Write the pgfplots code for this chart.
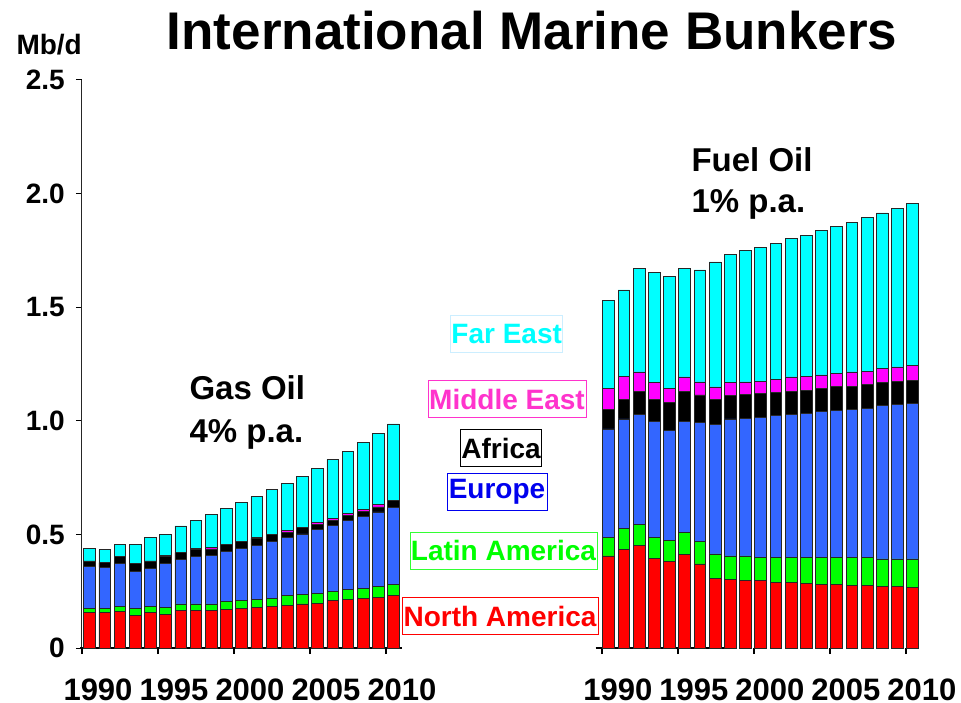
\documentclass[border=0pt]{standalone}
\usepackage{fontspec}
\setmainfont{Liberation Sans}
\usepackage{pgfplots}
\usepackage{pgfplotstable}
\pgfplotsset{compat=1.18}

\definecolor{naRed}{HTML}{FF0000}
\definecolor{laGreen}{HTML}{00FF00}
\definecolor{euBlue}{HTML}{3366FF}
\definecolor{meMag}{HTML}{FF00FF}
\definecolor{feCyan}{HTML}{00FFFF}
\definecolor{meText}{HTML}{FF33CC}
\definecolor{euText}{HTML}{0000EE}
\definecolor{laBox}{HTML}{33FF33}
\definecolor{feBox}{HTML}{CCEEFF}

% Bunker demand by region, Mb/d. Gas oil 1990-2010 at x = 0.5 ... 20.5,
% fuel oil 1990-2010 at x = 34.65 ... 54.65
\pgfplotstableread{
x     NA    LA    EU    AF    ME    FE
0.5   0.155 0.021 0.183 0.024 0.000 0.054
1.5   0.155 0.021 0.180 0.020 0.000 0.056
2.5   0.159 0.023 0.191 0.028 0.000 0.054
3.5   0.143 0.031 0.164 0.034 0.000 0.083
4.5   0.155 0.029 0.166 0.033 0.000 0.103
5.5   0.149 0.029 0.195 0.028 0.007 0.092
6.5   0.165 0.029 0.194 0.032 0.000 0.117
7.5   0.165 0.029 0.210 0.028 0.005 0.126
8.5   0.165 0.029 0.214 0.028 0.006 0.146
9.5   0.169 0.035 0.219 0.032 0.000 0.159
10.5  0.174 0.035 0.230 0.029 0.000 0.171
11.5  0.178 0.035 0.239 0.031 0.004 0.179
12.5  0.182 0.038 0.248 0.032 0.000 0.196
13.5  0.188 0.042 0.257 0.022 0.010 0.206
14.5  0.194 0.041 0.267 0.030 0.000 0.225
15.5  0.198 0.044 0.280 0.022 0.009 0.237
16.5  0.210 0.039 0.292 0.022 0.007 0.260
17.5  0.213 0.044 0.303 0.025 0.008 0.272
18.5  0.219 0.042 0.318 0.023 0.009 0.293
19.5  0.222 0.048 0.329 0.022 0.010 0.315
20.5  0.232 0.047 0.339 0.032 0.000 0.336
34.65 0.405 0.082 0.477 0.085 0.093 0.386
35.65 0.435 0.091 0.482 0.087 0.102 0.379
36.65 0.453 0.092 0.483 0.101 0.086 0.455
37.65 0.394 0.093 0.511 0.097 0.072 0.485
38.65 0.381 0.091 0.487 0.121 0.062 0.493
39.65 0.410 0.097 0.491 0.131 0.064 0.477
40.65 0.370 0.098 0.525 0.121 0.057 0.493
41.65 0.308 0.106 0.569 0.112 0.054 0.550
42.65 0.302 0.103 0.603 0.102 0.057 0.564
43.65 0.296 0.109 0.607 0.103 0.056 0.577
44.65 0.296 0.104 0.616 0.104 0.055 0.588
45.65 0.290 0.110 0.622 0.102 0.059 0.599
46.65 0.290 0.110 0.627 0.102 0.064 0.611
47.65 0.286 0.114 0.634 0.100 0.063 0.620
48.65 0.281 0.119 0.643 0.100 0.059 0.634
49.65 0.281 0.119 0.647 0.103 0.060 0.646
50.65 0.276 0.124 0.651 0.102 0.062 0.660
51.65 0.276 0.124 0.656 0.103 0.060 0.677
52.65 0.271 0.121 0.674 0.102 0.063 0.684
53.65 0.271 0.121 0.680 0.100 0.065 0.698
54.65 0.267 0.125 0.686 0.099 0.068 0.713
}\bunkers

\begin{document}
\begin{tikzpicture}[font=\bfseries]
\path[use as bounding box] (-82pt,-54pt) rectangle (879pt,648pt);
\begin{axis}[
  at={(0pt,0pt)}, anchor=south west,
  scale only axis, width=839pt, height=568pt,
  xmin=0, xmax=55.2, ymin=0, ymax=2.5,
  clip=false,
  ybar stacked, bar width=0.77,
  axis y line*=left, axis x line*=bottom,
  y axis line style={-, black!85, line width=1pt},
  x axis line style={draw=none},
  tick align=outside, major tick length=6pt,
  ytick={0,0.5,1,1.5,2,2.5},
  yticklabels={0,0.5,1.0,1.5,2.0,2.5},
  xtick={0,5,10,15,20,34.2,39.2,44.2,49.2,54.2},
  xticklabels={1990,1995,2000,2005,2010,1990,1995,2000,2005,2010},
  ytick style={black, line width=1pt},
  xtick style={black, line width=2pt},
  yticklabel style={font=\fontsize{28}{30}\selectfont\bfseries, anchor=east, inner sep=0pt, xshift=-11pt},
  xticklabel style={font=\fontsize{31}{33}\selectfont\bfseries, anchor=base, inner sep=0pt, xshift=16pt, yshift=-46pt},
  every axis plot/.append style={draw=black!85, line width=0.8pt},
]
\addplot[fill=naRed]  table[x=x, y=NA]{\bunkers};
\addplot[fill=laGreen] table[x=x, y=LA]{\bunkers};
\addplot[fill=euBlue] table[x=x, y=EU]{\bunkers};
\addplot[fill=black]  table[x=x, y=AF]{\bunkers};
\addplot[fill=meMag]  table[x=x, y=ME]{\bunkers};
\addplot[fill=feCyan] table[x=x, y=FE]{\bunkers};
% baseline segments under each group
\draw[black, line width=2pt] (axis cs:-0.1,0) -- (axis cs:21.05,0);
\draw[black, line width=2pt] (axis cs:33.8,0) -- (axis cs:43.1,0);
\end{axis}

% title and unit
\node[anchor=base, font=\fontsize{53}{60}\selectfont\bfseries] at (450pt,598pt) {International Marine Bunkers};
\node[anchor=base west, font=\fontsize{28}{30}\selectfont\bfseries] at (-69pt,593pt) {Mb/d};

% group annotations
\begin{scope}[every node/.style={anchor=base west, font=\fontsize{33}{35}\selectfont\bfseries}]
\node at (104pt,248pt) {Gas Oil};
\node at (104pt,206pt) {4\% p.a.};
\node at (606pt,476pt) {Fuel Oil};
\node at (606pt,435pt) {1\% p.a.};
\end{scope}

% region key
\begin{scope}[every node/.style={font=\fontsize{28}{30}\selectfont\bfseries, inner sep=0pt, minimum height=37pt, line width=1pt}]
\node[draw=feBox, text=feCyan, minimum width=112pt] at (424.7pt,313.5pt) {Far East};
\node[draw=meText, text=meText, minimum width=158pt] at (425pt,248.5pt) {Middle East};
\node[draw=black, text=black, minimum width=81pt] at (419pt,200pt) {Africa};
\node[draw=euText, text=euText, minimum width=100pt] at (415pt,156pt) {Europe};
\node[draw=laBox, text=laGreen, minimum width=187pt] at (421.5pt,97.5pt) {Latin America};
\node[draw=naRed, text=naRed, minimum width=196pt] at (418pt,32pt) {North America};
\end{scope}
\end{tikzpicture}
\end{document}
